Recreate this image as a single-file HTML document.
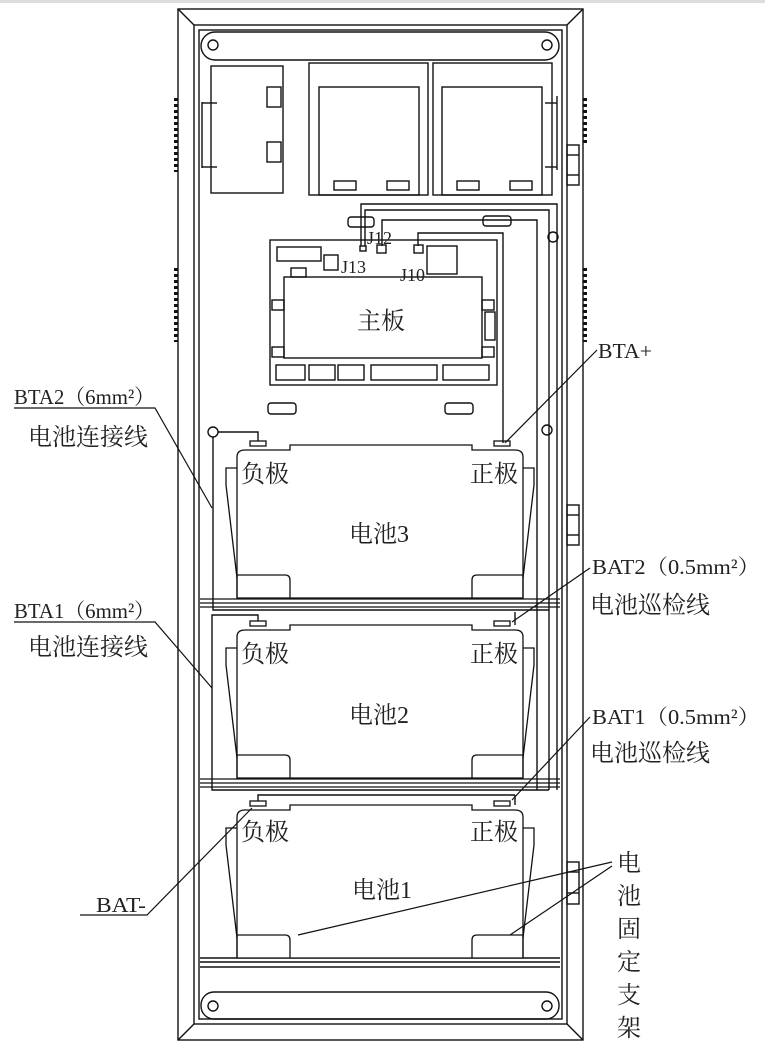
<!DOCTYPE html>
<html><head><meta charset="utf-8"><style>
html,body{margin:0;padding:0;background:#fff;}
svg{display:block;}
text{font-family:"Liberation Serif","Noto Serif CJK SC","Noto Sans CJK SC",serif;fill:#222;}
</style></head><body>
<svg width="765" height="1044" viewBox="0 0 765 1044" xmlns="http://www.w3.org/2000/svg">
<defs>
<g id="bat" fill="none" stroke="#111" stroke-width="1.3">
  <path d="M237,598 V457 Q237,450 245,450 H290 V445 H472 V450 H515 Q523,450 523,457 V598 Z" fill="#fff"/>
  <rect x="250" y="441" width="16" height="5"/>
  <rect x="494" y="441" width="16" height="5"/>
  <path d="M237,468 H226 V485 L237,578"/>
  <path d="M523,468 H534 V485 L523,578"/>
  <path d="M237,598 V575 H285 Q290,575 290,580 V598"/>
  <path d="M523,598 V575 H477 Q472,575 472,580 V598"/>
</g>
<g id="shelf" fill="none" stroke="#111" stroke-width="1.2">
  <line x1="200" y1="599" x2="560" y2="599"/>
  <line x1="200" y1="603" x2="560" y2="603"/>
  <line x1="200" y1="607" x2="560" y2="607"/>
</g>
</defs>
<rect x="0" y="0" width="765" height="3" fill="#ddd"/>
<g fill="none" stroke="#111" stroke-width="1.4">
  <rect x="178" y="9" width="405" height="1031"/>
  <rect x="194" y="25" width="373" height="999"/>
  <rect x="199" y="30" width="363" height="989"/>
  <line x1="178" y1="9" x2="194" y2="25"/><line x1="583" y1="9" x2="567" y2="25"/>
  <line x1="178" y1="1040" x2="194" y2="1024"/><line x1="583" y1="1040" x2="567" y2="1024"/>
  <rect x="201" y="32" width="358" height="28" rx="14"/>
  <circle cx="213" cy="45" r="5"/><circle cx="547" cy="45" r="5"/>
  <rect x="201" y="992" width="358" height="27" rx="13"/>
  <circle cx="213" cy="1006" r="5"/><circle cx="547" cy="1006" r="5"/>
  <line x1="200" y1="958" x2="560" y2="958"/><line x1="200" y1="962" x2="560" y2="962"/><line x1="200" y1="967" x2="560" y2="967"/>
  <rect x="211" y="66" width="72" height="127"/>
  <rect x="267" y="87" width="14" height="20"/><rect x="267" y="142" width="14" height="20"/>
  <line x1="202" y1="102" x2="202" y2="168"/><line x1="202" y1="103" x2="217" y2="103"/><line x1="202" y1="167" x2="217" y2="167"/>
  <rect x="309" y="63" width="119" height="132"/><rect x="319" y="87" width="100" height="108"/>
  <rect x="334" y="181" width="22" height="9"/><rect x="387" y="181" width="22" height="9"/>
  <rect x="433" y="63" width="119" height="132"/><rect x="442" y="87" width="100" height="108"/>
  <rect x="457" y="181" width="22" height="9"/><rect x="510" y="181" width="22" height="9"/>
  <line x1="557" y1="96" x2="557" y2="170"/><line x1="545" y1="103" x2="557" y2="103"/><line x1="545" y1="167" x2="557" y2="167"/>
  <rect x="270" y="240" width="227" height="145"/>
  <rect x="284" y="277" width="198" height="81"/>
  <rect x="277" y="247" width="44" height="14"/><rect x="324" y="255" width="14" height="15"/>
  <rect x="291" y="268" width="15" height="9"/>
  <rect x="427" y="246" width="30" height="28"/>
  <rect x="272" y="300" width="12" height="10"/><rect x="272" y="347" width="12" height="10"/>
  <rect x="482" y="300" width="12" height="10"/><rect x="482" y="347" width="12" height="10"/>
  <rect x="485" y="312" width="10" height="28"/>
  <rect x="276" y="365" width="29" height="15"/><rect x="309" y="365" width="26" height="15"/><rect x="338" y="365" width="26" height="15"/>
  <rect x="371" y="365" width="66" height="15"/><rect x="443" y="365" width="46" height="15"/>
  <rect x="360" y="246" width="6" height="5"/><rect x="377" y="245" width="9" height="8"/><rect x="414" y="245" width="9" height="8"/>
  <rect x="348" y="217" width="26" height="10" rx="3"/><rect x="483" y="216" width="28" height="10" rx="3"/>
  <rect x="268" y="403" width="28" height="11" rx="3"/><rect x="445" y="403" width="28" height="11" rx="3"/>
  <path d="M361,246 V204 H557 V790"/>
  <path d="M365,246 V210 H549 V790"/>
  <path d="M382,246 V220 H537 V790"/>
  <path d="M418,246 V233 H503 V443"/>
  <circle cx="553" cy="237" r="5"/><circle cx="547" cy="430" r="5"/>
  <circle cx="213" cy="432" r="5"/>
  <path d="M213,437 V610 H549"/>
  <path d="M258,441 V432 H218"/>
  <path d="M258,621 V615 H212 V790 H549"/>
  <path d="M515,625 V612"/><path d="M515,805 V795"/>
  <path d="M258,801 V795 H515"/>
  <rect x="567" y="145" width="12" height="40"/><line x1="567" y1="155" x2="579" y2="155"/><line x1="567" y1="175" x2="579" y2="175"/>
  <rect x="567" y="505" width="12" height="40"/><line x1="567" y1="515" x2="579" y2="515"/><line x1="567" y1="535" x2="579" y2="535"/>
  <rect x="567" y="862" width="12" height="42"/><line x1="567" y1="872" x2="579" y2="872"/><line x1="567" y1="893" x2="579" y2="893"/>
</g>
<g stroke="#111" stroke-width="4" stroke-dasharray="3,3">
  <line x1="176" y1="98" x2="176" y2="172"/><line x1="176" y1="268" x2="176" y2="342"/>
  <line x1="585" y1="98" x2="585" y2="145"/><line x1="585" y1="268" x2="585" y2="342"/>
</g>
<use href="#bat"/><use href="#bat" y="180"/><use href="#bat" y="360"/>
<use href="#shelf"/><use href="#shelf" y="180"/>
<g fill="none" stroke="#111" stroke-width="1.2">
  <path d="M14,408 H155 L212,508"/>
  <path d="M14,622 H155 L212,688"/>
  <path d="M80,915 H147 L252,808"/>
  <path d="M597,350 L505,443"/>
  <path d="M590,568 L512,622"/>
  <path d="M590,717 L512,800"/>
  <path d="M612,862 L298,935"/>
  <path d="M612,866 L510,935"/>
</g>
<g font-size="24">
  <text x="357" y="329">主板</text>
  <text x="241" y="482">负极</text><text x="470" y="482">正极</text>
  <text x="349" y="542">电池3</text>
  <text x="241" y="662">负极</text><text x="470" y="662">正极</text>
  <text x="349" y="723">电池2</text>
  <text x="241" y="840">负极</text><text x="470" y="840">正极</text>
  <text x="352" y="898">电池1</text>
</g>
<g font-size="18">
  <text x="367" y="244">J12</text><text x="341" y="273">J13</text><text x="400" y="281">J10</text>
</g>
<g font-size="21">
  <text x="14" y="404" textLength="141" lengthAdjust="spacingAndGlyphs">BTA2（6mm²）</text>
  <text x="14" y="618" textLength="141" lengthAdjust="spacingAndGlyphs">BTA1（6mm²）</text>
  <text x="96" y="912" textLength="50" lengthAdjust="spacingAndGlyphs">BAT-</text>
  <text x="598" y="358" textLength="54" lengthAdjust="spacingAndGlyphs">BTA+</text>
  <text x="592" y="574" textLength="168" lengthAdjust="spacingAndGlyphs">BAT2（0.5mm²）</text>
  <text x="592" y="724" textLength="168" lengthAdjust="spacingAndGlyphs">BAT1（0.5mm²）</text>
</g>
<g font-size="24">
  <text x="28" y="445">电池连接线</text>
  <text x="28" y="655">电池连接线</text>
  <text x="590" y="613">电池巡检线</text>
  <text x="590" y="761">电池巡检线</text>
  <text x="617" y="871">电</text><text x="617" y="904">池</text><text x="617" y="937">固</text>
  <text x="617" y="970">定</text><text x="617" y="1003">支</text><text x="617" y="1036">架</text>
</g>
</svg>
</body></html>
